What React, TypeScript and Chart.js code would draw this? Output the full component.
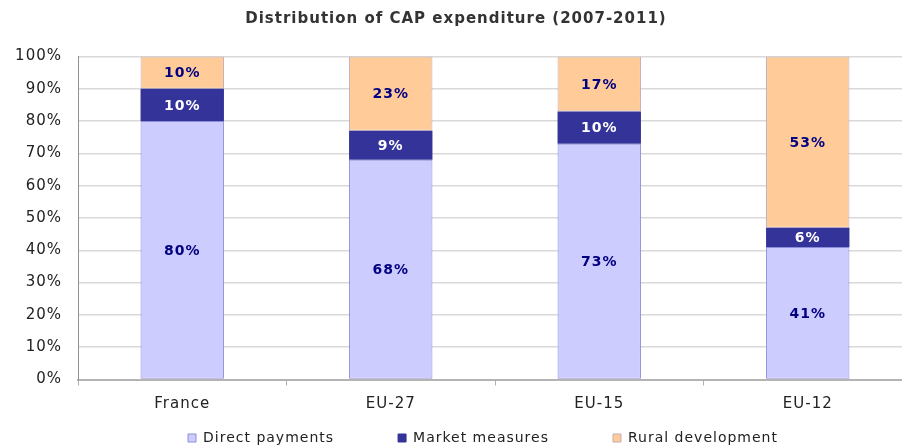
import React, { useEffect, useRef } from "react";
import { Chart, registerables } from "chart.js";

Chart.register(...registerables);

const title = "Distribution of CAP expenditure (2007-2011)";
const categories = ["France", "EU-27", "EU-15", "EU-12"];
const directPayments = [80, 68, 73, 41];
const marketMeasures = [10, 9, 10, 6];
const ruralDevelopment = [10, 23, 17, 53];
const yTicks = [0, 10, 20, 30, 40, 50, 60, 70, 80, 90, 100];

const FONT = "'DejaVu Sans', Verdana, sans-serif";
const LEGEND_PAD = 64;
const LEGEND_CENTER_Y = 438;

const spacingPlugin = {
  id: "letterSpacing",
  beforeUpdate(chart: any) {
    chart.ctx.letterSpacing = "1px";
  },
  beforeLayout(chart: any) {
    chart.ctx.letterSpacing = "1px";
  },
  beforeDraw(chart: any) {
    chart.ctx.letterSpacing = "1px";
  },
};

const labelPlugin = {
  id: "barLabels",
  afterDatasetsDraw(chart: any) {
    const ctx = chart.ctx;
    ctx.save();
    ctx.font = `bold 14px ${FONT}`;
    ctx.textAlign = "center";
    ctx.textBaseline = "middle";
    chart.data.datasets.forEach((ds: any, di: number) => {
      const meta = chart.getDatasetMeta(di);
      meta.data.forEach((el: any, i: number) => {
        const v = ds.data[i];
        ctx.fillStyle = ds.labelColor;
        ctx.fillText(v + "%", el.x, (el.y + el.base) / 2 + 1);
      });
    });
    ctx.restore();
  },
};

const legendShift = {
  id: "legendShift",
  afterLayout(chart: any) {
    const lg = chart.legend;
    if (lg) {
      lg.left += 27;
      lg.right += 27;
      lg.top = LEGEND_CENTER_Y - LEGEND_PAD - 7;
    }
  },
};

export default function App() {
  const ref = useRef<HTMLCanvasElement | null>(null);
  useEffect(() => {
    if (!ref.current) return;
    const chart = new Chart(ref.current, {
      type: "bar",
      data: {
        labels: categories,
        datasets: [
          {
            label: "Direct payments",
            data: directPayments,
            backgroundColor: "#CCCCFF",
            borderColor: "#8c8cd9",
            borderWidth: 1,
            borderSkipped: false,
            labelColor: "#000080",
          } as any,
          {
            label: "Market measures",
            data: marketMeasures,
            backgroundColor: "#333399",
            borderColor: "#333399",
            borderWidth: 0,
            labelColor: "#ffffff",
          } as any,
          {
            label: "Rural development",
            data: ruralDevelopment,
            backgroundColor: "#FFCC99",
            borderColor: "#c4a9b4",
            borderWidth: 1,
            borderSkipped: false,
            labelColor: "#000080",
          } as any,
        ],
      },
      options: {
        responsive: false,
        animation: false,
        devicePixelRatio: 1,
        layout: { padding: { top: 10, right: 8, left: 0, bottom: 0 } },
        datasets: { bar: { barPercentage: 0.4, categoryPercentage: 1 } },
        plugins: {
          title: {
            display: true,
            text: title,
            color: "#333333",
            font: { family: FONT, size: 15, weight: "bold" },
            padding: { top: 0, bottom: 28.5 },
          },
          legend: {
            position: "bottom",
            maxHeight: 25.5,
            labels: {
              boxWidth: 8,
              boxHeight: 8,
              padding: LEGEND_PAD,
              color: "#222222",
              font: { family: FONT, size: 14 },
              generateLabels(chart: any) {
                return chart.data.datasets.map((ds: any, i: number) => ({
                  text: ds.label,
                  fillStyle: ds.backgroundColor,
                  strokeStyle: i === 1 ? "#333399" : ds.borderColor,
                  lineWidth: 1,
                  datasetIndex: i,
                  fontColor: "#222222",
                }));
              },
            },
          },
          tooltip: { enabled: false },
        },
        scales: {
          x: {
            stacked: true,
            grid: {
              display: true,
              drawOnChartArea: false,
              offset: true,
              tickLength: 6,
              color: "#b0b0b0",
            },
            border: { color: "#b4b4b4", width: 2 },
            ticks: {
              color: "#222222",
              font: { family: FONT, size: 15 },
              padding: 9.5,
            },
          },
          y: {
            stacked: true,
            min: 0,
            max: 100,
            afterFit(scale: any) {
              scale.width = 78;
            },
            afterBuildTicks(scale: any) {
              scale.ticks = yTicks.map((v) => ({ value: v }));
            },
            grid: { color: "#d9d9d9", tickLength: 0, lineWidth: 1.5 },
            border: { color: "#909090", width: 1 },
            ticks: {
              color: "#222222",
              font: { family: FONT, size: 15 },
              padding: 16,
              callback: (v: any) => v + "%",
            },
          },
        },
      },
      plugins: [spacingPlugin, labelPlugin, legendShift],
    });
    return () => chart.destroy();
  }, []);
  return (
    <div
      style={{
        position: "fixed",
        left: 0,
        top: 0,
        width: 902,
        height: 448,
        overflow: "hidden",
        background: "#fff",
      }}
    >
      <canvas ref={ref} width={920} height={448} />
    </div>
  );
}
